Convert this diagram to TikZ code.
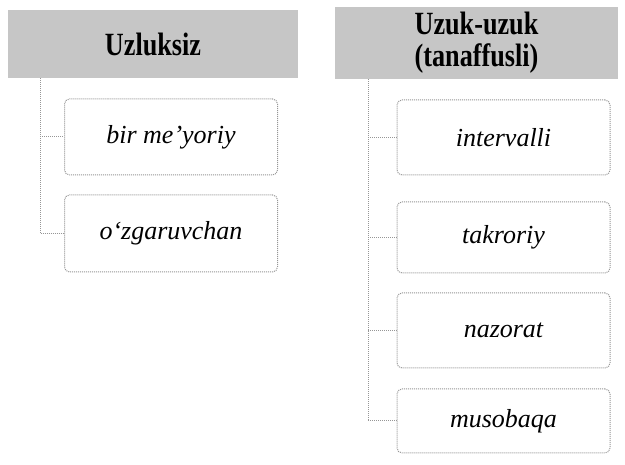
\documentclass[tikz,border=0pt]{standalone}
\usepackage{fontspec}
\usepackage{graphicx}
\setmainfont{Liberation Serif}
\newcommand{\hdtxt}[1]{\scalebox{0.97}[1.2]{#1}}
\begin{document}
\begin{tikzpicture}[x=1pt,y=-1pt,
  header/.style={fill=hdrgray, draw=none, inner sep=0pt,
    font=\fontsize{27}{32}\selectfont\bfseries, text=black, align=center},
  itembox/.style={draw=linegray, densely dotted, line width=1pt, rounded corners=5pt,
    fill=white, inner sep=0pt, minimum width=213pt,
    font=\fontsize{26}{30}\selectfont\itshape},
  link/.style={draw=linegray, densely dotted, line width=1pt}]
\definecolor{hdrgray}{RGB}{198,198,198}
\definecolor{linegray}{RGB}{150,150,150}
\useasboundingbox (0,0) rectangle (625,465);

% headers
\node[header, minimum width=290pt, minimum height=68pt] (h1) at (153,44) {\hdtxt{Uzluksiz}};
\node[header, minimum width=283pt, minimum height=72pt] (h2) at (476.5,43)
  {\hdtxt{Uzuk-uzuk}\\[0pt]\hdtxt{(tanaffusli)}};

% left column
\node[itembox, minimum height=76pt] (a1) at (171,137) {bir me'yoriy};
\node[itembox, minimum height=77pt] (a2) at (171,233.5) {o‘zgaruvchan};

% right column
\node[itembox, minimum height=75pt] (b1) at (503.5,137.5) {intervalli};
\node[itembox, minimum height=71pt] (b2) at (503.5,237.5) {takroriy};
\node[itembox, minimum height=75pt] (b3) at (503.5,330.5) {nazorat};
\node[itembox, minimum height=64pt] (b4) at (503.5,421) {musobaqa};

% trunks and branches
\coordinate (ta) at (40,0);
\coordinate (tb) at (368,0);
\draw[link] (ta |- h1.south) -- (ta |- a2.west) -- (a2.west);
\draw[link] (ta |- a1.west) -- (a1.west);
\draw[link] (tb |- h2.south) -- (tb |- b4.west) -- (b4.west);
\draw[link] (tb |- b1.west) -- (b1.west);
\draw[link] (tb |- b2.west) -- (b2.west);
\draw[link] (tb |- b3.west) -- (b3.west);
\end{tikzpicture}
\end{document}
